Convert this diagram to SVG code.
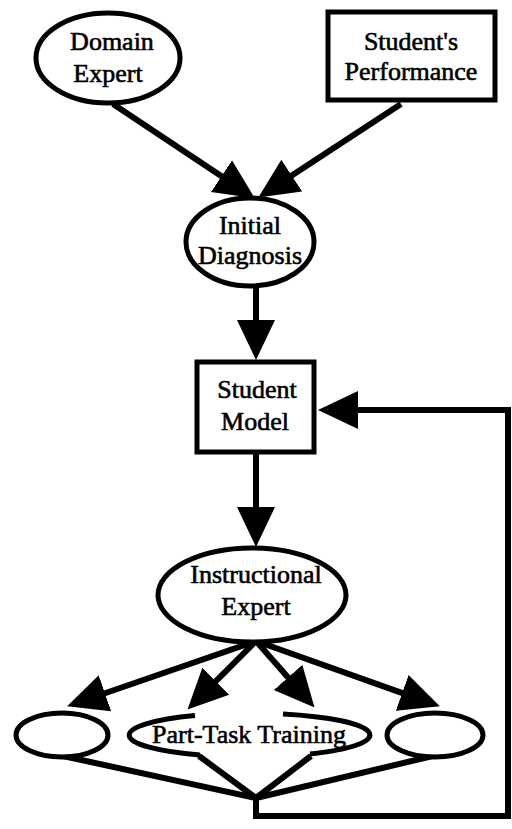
<svg xmlns="http://www.w3.org/2000/svg" width="512" height="829" viewBox="0 0 512 829">
<defs>
<style>
.node{fill:#fff;stroke:#000;stroke-width:5}
.arc{fill:none;stroke:#000;stroke-width:5}
.lbl{font-family:"Liberation Serif","Times New Roman",serif;font-size:26px;fill:#000;stroke:#000;stroke-width:0.6;text-anchor:middle}
.conn{fill:none;stroke:#000;stroke-width:6}
.arr{marker-end:url(#ah)}
</style>
<marker id="ah" viewBox="0 0 40 40" refX="10" refY="20" markerWidth="40" markerHeight="40" markerUnits="userSpaceOnUse" orient="auto">
<path d="M0,1 L40,20 L0,39 Z" fill="#000"/>
</marker>
</defs>
<rect width="512" height="829" fill="#fff"/>
<g id="connectors">
<line class="conn arr" x1="113" y1="104" x2="229.8" y2="181.7"/>
<line class="conn arr" x1="401" y1="104" x2="283.4" y2="181"/>
<line class="conn arr" x1="256" y1="286" x2="256" y2="330"/>
<line class="conn arr" x1="256" y1="452" x2="256" y2="517"/>
<line class="conn arr" x1="256" y1="641" x2="95.5" y2="696.5"/>
<line class="conn arr" x1="256" y1="641" x2="208.7" y2="688.3"/>
<line class="conn arr" x1="256" y1="641" x2="294.7" y2="684.9"/>
<line class="conn arr" x1="256" y1="641" x2="411.6" y2="696.3"/>
<line class="conn" x1="63" y1="756" x2="256" y2="798"/>
<line class="conn" x1="199" y1="756" x2="256" y2="798"/>
<line class="conn" x1="311" y1="756" x2="256" y2="798"/>
<line class="conn" x1="437" y1="755" x2="256" y2="798"/>
<polyline class="conn arr" points="256,796 256,816 508,816 508,410 348,410"/>
</g>
<g id="domain-expert">
<ellipse class="node" cx="108" cy="58" rx="72" ry="45"/>
<text class="lbl" x="112" y="50">Domain</text>
<text class="lbl" x="108" y="82">Expert</text>
</g>
<g id="students-performance">
<rect class="node" x="328" y="12" width="167" height="88"/>
<text class="lbl" x="411" y="50">Student's</text>
<text class="lbl" x="411" y="80">Performance</text>
</g>
<g id="initial-diagnosis">
<ellipse class="node" cx="250" cy="242" rx="64" ry="44"/>
<text class="lbl" x="250" y="234">Initial</text>
<text class="lbl" x="250" y="264">Diagnosis</text>
</g>
<g id="student-model">
<rect class="node" x="197" y="362" width="117" height="90"/>
<text class="lbl" x="257" y="398">Student</text>
<text class="lbl" x="255" y="430">Model</text>
</g>
<g id="instructional-expert">
<ellipse class="node" cx="252" cy="595" rx="94" ry="47"/>
<text class="lbl" x="256" y="583">Instructional</text>
<text class="lbl" x="256" y="615">Expert</text>
</g>
<g id="left-option">
<ellipse class="node" cx="62" cy="735" rx="46" ry="22"/>
</g>
<g id="part-task-training">
<path class="arc" d="M195,715.5 A121,22 0 0 0 200,755.1"/>
<path class="arc" d="M283,713.9 A121,22 0 0 1 310,754"/>
<text class="lbl" x="249" y="743">Part-Task Training</text>
</g>
<g id="right-option">
<ellipse class="node" cx="435" cy="735" rx="48" ry="22"/>
</g>
</svg>
